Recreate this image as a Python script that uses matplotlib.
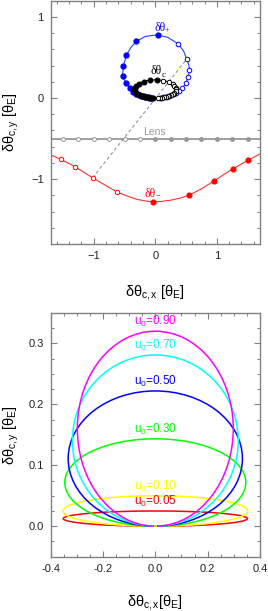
import numpy as np
import matplotlib
matplotlib.use('Agg')
import matplotlib.pyplot as plt
from matplotlib.patches import Ellipse, Arc
from matplotlib.ticker import MultipleLocator, FormatStrFormatter

plt.rcParams['font.family'] = ['Liberation Sans', 'DejaVu Sans']
plt.rcParams['mathtext.fontset'] = 'custom'
plt.rcParams['mathtext.rm'] = 'Liberation Sans'
plt.rcParams['mathtext.it'] = 'Liberation Sans'
plt.rcParams['mathtext.bf'] = 'Liberation Sans:bold'

# ---- top panel: image / centroid trajectories
lens_x = [-1.5, -1.25, -1.0, -0.75, -0.5, -0.25, 0.0, 0.25, 0.5, 0.75, 1.0, 1.25, 1.5]
lens_y = -0.5

# minor image, curve and dots
minus_curve_x = [-1.8, -1.7, -1.53, -1.30, -1.02, -0.80, -0.62, -0.45, -0.30, -0.15, -0.03,
                 0.10, 0.25, 0.40, 0.55, 0.75, 0.96, 1.12, 1.26, 1.50, 1.70, 1.8]
minus_curve_y = [-0.66, -0.70, -0.757, -0.848, -0.984, -1.08, -1.16, -1.21, -1.25, -1.27, -1.28,
                 -1.275, -1.26, -1.235, -1.198, -1.12, -1.02, -0.94, -0.873, -0.77, -0.69, -0.66]
minus_open_x = [-1.53, -1.30, -1.02, -0.62]
minus_open_y = [-0.757, -0.848, -0.984, -1.16]
minus_fill_x = [-0.04, 0.55, 0.96, 1.26, 1.50]
minus_fill_y = [-1.28, -1.198, -1.02, -0.873, -0.77]

# major image loop
plus_curve_x = [-0.02, -0.08, -0.14, -0.20, -0.26, -0.31, -0.36, -0.41, -0.47, -0.51, -0.53, -0.52,
                -0.47, -0.40, -0.31, -0.16, 0.03, 0.20, 0.37, 0.46, 0.51, 0.545, 0.555, 0.545,
                0.53, 0.50, 0.44, 0.39, 0.33, 0.27, 0.21, 0.15, 0.09, 0.03]
plus_curve_y = [0.0, 0.004, 0.011, 0.022, 0.038, 0.055, 0.08, 0.12, 0.19, 0.23, 0.30, 0.39,
                0.53, 0.62, 0.70, 0.76, 0.78, 0.75, 0.67, 0.58, 0.48, 0.41, 0.35, 0.30,
                0.255, 0.19, 0.12, 0.085, 0.055, 0.035, 0.021, 0.011, 0.004, 0.0]
plus_fill_x = [0.05, -0.31, -0.47, -0.53, -0.53, -0.47, -0.41, -0.36, -0.31, -0.27, -0.23,
               -0.20, -0.17, -0.14, -0.11, -0.08, -0.05]
plus_fill_y = [0.78, 0.70, 0.53, 0.39, 0.27, 0.19, 0.12, 0.08, 0.055, 0.04, 0.03,
               0.022, 0.016, 0.011, 0.007, 0.004, 0.002]
plus_open_x = [0.37, 0.51, 0.555, 0.53, 0.50, 0.44, 0.39, 0.34, 0.30, 0.26, 0.22, 0.19,
               0.16, 0.13, 0.10, 0.07]
plus_open_y = [0.67, 0.48, 0.35, 0.255, 0.19, 0.12, 0.085, 0.06, 0.045, 0.033, 0.024, 0.017,
               0.012, 0.008, 0.005, 0.003]

# centroid shift ellipse and dots
cen_center_y = 0.112
cen_width = 0.67
cen_height = 0.225
cen_fill_x = [0.03, -0.08, -0.19, -0.26, -0.31, -0.33, -0.34, -0.33, -0.31, -0.28, -0.25,
              -0.22, -0.19, -0.16, -0.13, -0.10, -0.07, -0.04]
cen_fill_y = [0.225, 0.218, 0.20, 0.178, 0.155, 0.13, 0.11, 0.085, 0.065, 0.048, 0.036,
              0.027, 0.02, 0.014, 0.009, 0.006, 0.003, 0.001]
cen_open_x = [0.13, 0.22, 0.28, 0.31, 0.33, 0.335, 0.33, 0.31, 0.29, 0.26, 0.23, 0.20,
              0.17, 0.14, 0.11, 0.08, 0.05]
cen_open_y = [0.215, 0.20, 0.178, 0.155, 0.13, 0.11, 0.085, 0.065, 0.05, 0.037, 0.027, 0.02,
              0.014, 0.009, 0.006, 0.003, 0.001]

# ---- bottom panel: centroid ellipses for several impact parameters
u0_labels = ['0.05', '0.10', '0.30', '0.50', '0.70', '0.90']
ell_half_width = [0.352, 0.353, 0.346, 0.333, 0.317, 0.298]
ell_top = [0.025, 0.050, 0.1435, 0.222, 0.281, 0.320]
ell_colors = ['#ff0000', '#ffff00', '#00ff00', '#0000ff', '#00ffff', '#ff00ff']
ell_gap_x = 0.02   # trajectories stop just short of the origin

spine_col = '#808080'


def style_axes(ax):
    for s in ax.spines.values():
        s.set_color(spine_col)
        s.set_linewidth(1.0)
    ax.tick_params(which='both', direction='in', top=True, right=True,
                   color=spine_col, labelsize=8, labelcolor='#222222')
    ax.tick_params(which='major', length=4.5, width=0.8, pad=5)
    ax.tick_params(which='minor', length=2.3, width=0.7)


fig = plt.figure(figsize=(2.68, 6.11), dpi=100)
ax1 = fig.add_axes([0.189, 0.6007, 0.781, 0.398])
ax2 = fig.add_axes([0.189, 0.0889, 0.781, 0.3989])

# top panel
ax1.axhline(lens_y, color='#999999', lw=1.3, zorder=1)
for x in lens_x:
    ax1.plot(x, lens_y, 'o', ms=2.8, mec='#999999', mew=0.7,
             mfc='white' if x < 0 else '#999999', zorder=2)

ax1.plot([minus_open_x[2], plus_open_x[1]], [minus_open_y[2], plus_open_y[1]],
         ls=(0, (4, 3)), color='#777777', lw=0.6, zorder=1)

ax1.plot(minus_curve_x, minus_curve_y, color='#ff3030', lw=0.8, zorder=2)
ax1.plot(minus_open_x, minus_open_y, 'o', ms=3.2, mfc='white', mec='red', mew=0.7, zorder=3)
ax1.plot(minus_fill_x, minus_fill_y, 'o', ms=3.4, color='red', zorder=3)

ax1.plot(plus_curve_x, plus_curve_y, color='#2040ff', lw=0.8, zorder=2)
ax1.plot(plus_open_x, plus_open_y, 'o', ms=3.3, mfc='white', mec='blue', mew=0.7, zorder=3)
ax1.plot(plus_fill_x, plus_fill_y, 'o', ms=3.5, color='blue', zorder=3)

ax1.add_patch(Ellipse((0, cen_center_y), cen_width, cen_height, fill=False,
                      ec='black', lw=0.8, zorder=4))
ax1.plot(cen_open_x, cen_open_y, 'o', ms=3.2, mfc='white', mec='black', mew=0.7, zorder=5)
ax1.plot(cen_fill_x, cen_fill_y, 'o', ms=3.3, color='black', zorder=5)

serif = ['Liberation Serif', 'DejaVu Serif']
ax1.text(0.07, 0.87, 'δθ', color='blue', fontsize=8.5, family=serif,
         ha='center', va='center', zorder=6)
ax1.text(0.19, 0.84, '+', color='blue', fontsize=6, family=serif,
         ha='center', va='center', zorder=6)
ax1.text(0.02, 0.33, 'δθ', color='black', fontsize=8.5, family=serif,
         ha='center', va='center', zorder=6)
ax1.text(0.13, 0.29, 'c', color='black', fontsize=6.5, family=serif,
         ha='center', va='center', zorder=6)
ax1.text(-0.02, -0.42, 'Lens', color='#999999', fontsize=7.5,
         ha='center', va='center', zorder=6)
ax1.text(-0.08, -1.185, 'δθ', color='red', fontsize=8.5, family=serif,
         ha='center', va='center', zorder=6)
ax1.text(0.04, -1.215, '−', color='red', fontsize=6, family=serif,
         ha='center', va='center', zorder=6)

ax1.set_xlim(-1.7, 1.7)
ax1.set_ylim(-1.8, 1.2)
ax1.xaxis.set_major_locator(MultipleLocator(1))
ax1.xaxis.set_minor_locator(MultipleLocator(0.2))
ax1.yaxis.set_major_locator(MultipleLocator(1))
ax1.yaxis.set_minor_locator(MultipleLocator(0.2))
style_axes(ax1)
ax1.set_xlabel(r'$\delta\theta_{c,x}$ [$\theta_E$]', fontsize=10.5, va='top')
ax1.set_ylabel(r'$\delta\theta_{c,y}$ [$\theta_E$]', fontsize=10.5, va='top')
ax1.xaxis.set_label_coords(0.5, -0.16)
ax1.yaxis.set_label_coords(-0.235, 0.5)

# bottom panel
for lab, a, top, col in zip(u0_labels, ell_half_width, ell_top, ell_colors):
    b = top / 2.0
    gap = np.degrees(np.arcsin(ell_gap_x / a))
    ax2.add_patch(Arc((0, b), 2 * a, top, theta1=270 + gap, theta2=270 - gap,
                      color=col, lw=1.1))
    ax2.text(0.0, top + 0.003, 'u$_0$=' + lab, color=col, fontsize=8.5,
             ha='center', va='bottom')

ax2.set_xlim(-0.4, 0.4)
ax2.set_ylim(-0.05, 0.35)
ax2.xaxis.set_major_locator(MultipleLocator(0.2))
ax2.xaxis.set_minor_locator(MultipleLocator(0.05))
ax2.yaxis.set_major_locator(MultipleLocator(0.1))
ax2.yaxis.set_minor_locator(MultipleLocator(0.025))
ax2.xaxis.set_major_formatter(FormatStrFormatter('%.1f'))
ax2.yaxis.set_major_formatter(FormatStrFormatter('%.1f'))
style_axes(ax2)
ax2.set_xlabel(r'$\delta\theta_{c,x}$[$\theta_E$]', fontsize=10.5, va='top')
ax2.set_ylabel(r'$\delta\theta_{c,y}$ [$\theta_E$]', fontsize=10.5, va='top')
ax2.xaxis.set_label_coords(0.5, -0.15)
ax2.yaxis.set_label_coords(-0.235, 0.5)

fig.savefig('out.png', dpi=100)
